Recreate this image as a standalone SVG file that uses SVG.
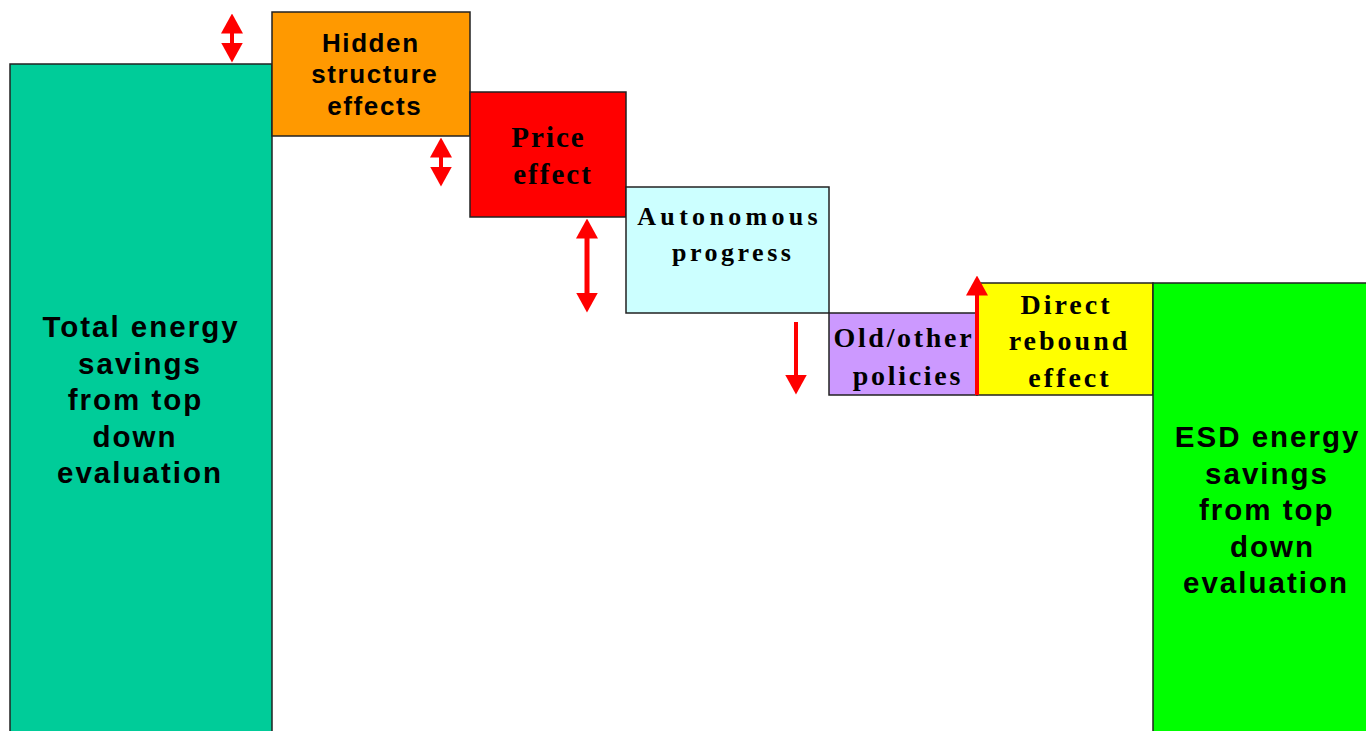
<svg xmlns="http://www.w3.org/2000/svg" width="1366" height="731" viewBox="0 0 1366 731">
<style>
.box{stroke:#222;stroke-width:1.5}
.sans{font-family:"Liberation Sans",Arial,sans-serif;font-weight:bold;fill:#000;text-anchor:middle}
.serif{font-family:"Liberation Serif","Times New Roman",serif;font-weight:bold;fill:#000;text-anchor:middle}
.arr{stroke:#FF0000;fill:none}
</style>
<defs>
<marker id="head" markerUnits="userSpaceOnUse" markerWidth="20" markerHeight="22" viewBox="0 -11 20 22" refX="0.5" refY="0" orient="auto-start-reverse">
<path d="M0,-11 L20,0 L0,11 z" fill="#FF0000"/>
</marker>
</defs>
<rect width="1366" height="731" fill="#fff"/>
<g id="total">
<rect class="box" x="10" y="64" width="262" height="680" fill="#00CC99"/>
<text class="sans" font-size="29.5" letter-spacing="2"><tspan x="141" y="337">Total energy</tspan><tspan x="140" y="373.5">savings</tspan><tspan x="135.5" y="410">from top</tspan><tspan x="135" y="446.5">down</tspan><tspan x="140" y="483">evaluation</tspan></text>
</g>
<g id="hidden">
<rect class="box" x="272" y="12" width="198" height="124" fill="#FF9900"/>
<text class="sans" font-size="26" letter-spacing="1.6"><tspan x="370.8" y="52">Hidden</tspan><tspan x="374.8" y="83">structure</tspan><tspan x="374.8" y="115">effects</tspan></text>
</g>
<g id="price">
<rect class="box" x="470" y="92" width="156" height="125" fill="#FF0000"/>
<text class="serif" font-size="29" letter-spacing="2"><tspan x="548.5" y="147">Price</tspan><tspan x="553" y="183.5">effect</tspan></text>
</g>
<g id="autonomous">
<rect class="box" x="626" y="187" width="203" height="126" fill="#CCFFFF"/>
<text class="serif" font-size="26"><tspan x="729.6" y="225" letter-spacing="4.3">Autonomous</tspan><tspan x="733.2" y="260.5" letter-spacing="3.5">progress</tspan></text>
</g>
<g id="old">
<rect class="box" x="829" y="313" width="148" height="82" fill="#CC99FF"/>
<text class="serif" font-size="28" letter-spacing="2.7"><tspan x="903.9" y="346.5">Old/other</tspan><tspan x="907.9" y="384.5">policies</tspan></text>
</g>
<g id="rebound">
<rect class="box" x="977" y="283" width="176" height="112" fill="#FFFF00"/>
<text class="serif" font-size="28" letter-spacing="3"><tspan x="1066.5" y="313.5">Direct</tspan><tspan x="1069.5" y="350">rebound</tspan><tspan x="1070" y="386.5">effect</tspan></text>
</g>
<g id="esd">
<rect class="box" x="1153" y="283" width="220" height="460" fill="#00FF00"/>
<text class="sans" font-size="29.5" letter-spacing="2"><tspan x="1267.6" y="447">ESD energy</tspan><tspan x="1267" y="483.5">savings</tspan><tspan x="1266.7" y="520">from top</tspan><tspan x="1272.6" y="556.5">down</tspan><tspan x="1266" y="593">evaluation</tspan></text>
</g>
<g id="connectors">
<line class="arr" x1="232" y1="33" x2="232" y2="43" stroke-width="4" marker-start="url(#head)" marker-end="url(#head)"/>
<line class="arr" x1="441" y1="157" x2="441" y2="167" stroke-width="4" marker-start="url(#head)" marker-end="url(#head)"/>
<line class="arr" x1="587" y1="238" x2="587" y2="293" stroke-width="5" marker-start="url(#head)" marker-end="url(#head)"/>
<line class="arr" x1="796" y1="322" x2="796" y2="375" stroke-width="4" marker-end="url(#head)"/>
<line class="arr" x1="977" y1="395" x2="977" y2="295" stroke-width="4" marker-end="url(#head)"/>
</g>
</svg>
